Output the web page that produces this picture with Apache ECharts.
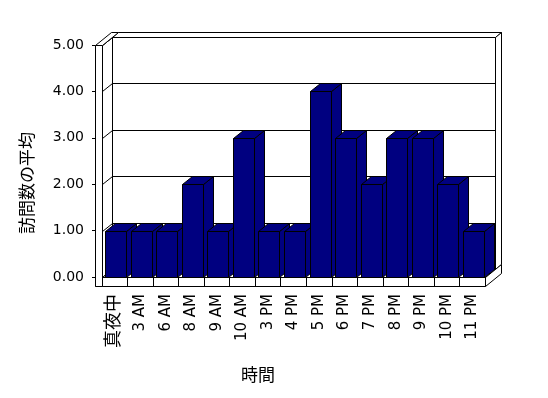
<!DOCTYPE html>
<html>
<head>
<meta charset="utf-8">
<script src="https://cdn.jsdelivr.net/npm/echarts@6/dist/echarts.min.js"></script>
<style>
  html, body { margin: 0; padding: 0; background: #fff; }
  #main { width: 548px; height: 398px; }
</style>
</head>
<body>
<div id="main"></div>
<script>
const categories = ['真夜中', '3 AM', '6 AM', '8 AM', '9 AM', '10 AM', '3 PM', '4 PM', '5 PM', '6 PM', '7 PM', '8 PM', '9 PM', '10 PM', '11 PM'];
const visits = [1, 1, 1, 2, 1, 3, 1, 1, 4, 3, 2, 3, 3, 2, 1];
const yTicks = [0, 1, 2, 3, 4, 5];

const FONT = '"DejaVu Sans", "Noto Sans CJK JP", sans-serif';
const DX = 10, DY = -8;      // depth of the 3d box
const WALL = 7;              // wall / floor thickness
const BX = 16, BY = -13;     // depth incl. back wall thickness

const chart = echarts.init(document.getElementById('main'), null, { renderer: 'canvas' });

function poly(points, fill) {
  return {
    type: 'polygon',
    shape: { points: points },
    style: { fill: fill, stroke: '#000', lineWidth: 1 }
  };
}
function line(x1, y1, x2, y2) {
  return {
    type: 'line',
    shape: { x1: x1, y1: y1, x2: x2, y2: y2 },
    style: { stroke: '#000', lineWidth: 1 }
  };
}

// walls and floor of the 3d box
function renderFrame(params, api) {
  const bw = api.size([1, 0])[0];
  const left = Math.round(api.coord([0, 0])[0] - bw / 2) + 0.5;
  const right = Math.round(api.coord([categories.length - 1, 0])[0] + bw / 2) + 0.5;
  const top = Math.round(api.coord([0, yTicks[yTicks.length - 1]])[1]) + 0.5;
  const bottom = Math.round(api.coord([0, 0])[1]) + 0.5;
  const kids = [];

  // back wall
  kids.push(poly([[left + DX, top + DY], [right + DX, top + DY], [right + DX, bottom + DY], [left + DX, bottom + DY]], '#fff'));
  kids.push(poly([[left + DX, top + DY], [right + DX, top + DY], [right + BX, top + BY], [left + BX, top + BY]], '#fff'));
  kids.push(poly([[right + DX, top + DY], [right + BX, top + BY], [right + BX, bottom + BY], [right + DX, bottom + DY]], '#fff'));
  // left wall inner face
  kids.push(poly([[left, top], [left + DX, top + DY], [left + DX, bottom + DY], [left, bottom]], '#fff'));
  // gridlines
  yTicks.forEach(function (t) {
    const y = Math.round(api.coord([0, t])[1]) + 0.5;
    kids.push(line(left, y, left + DX, y + DY));
    kids.push(line(left + DX, y + DY, right + DX, y + DY));
  });
  // floor
  kids.push(poly([[left, bottom], [right, bottom], [right + DX, bottom + DY], [left + DX, bottom + DY]], '#fff'));
  kids.push(poly([[left - WALL, bottom], [right, bottom], [right, bottom + WALL + 2], [left - WALL, bottom + WALL + 2]], '#fff'));
  kids.push(poly([[right, bottom], [right, bottom + WALL + 2], [right + BX, bottom + WALL + 2 + BY], [right + BX, bottom + BY]], '#fff'));
  // left wall front and top
  kids.push(poly([[left - WALL, top], [left, top], [left, bottom + WALL + 2], [left - WALL, bottom + WALL + 2]], '#fff'));
  kids.push(poly([[left - WALL, top], [left, top], [left + BX, top + BY], [left - WALL + BX, top + BY]], '#fff'));
  return { type: 'group', children: kids };
}

function renderBar(params, api) {
  const i = api.value(0);
  const v = api.value(1);
  const bw = api.size([1, 0])[0];
  const c = api.coord([i, v]);
  const b = api.coord([i, 0]);
  const w = Math.round(bw * 0.84);
  const x0 = Math.round(c[0] - w / 2) + 1.5;
  const x1 = x0 + w;
  const yt = Math.round(c[1]) + 0.5;
  const yb = Math.round(b[1]) + 0.5;
  const fill = '#000080';
  return {
    type: 'group',
    children: [
      poly([[x1, yt], [x1 + DX, yt + DY], [x1 + DX, yb + DY], [x1, yb]], fill),
      poly([[x0, yt], [x1, yt], [x1 + DX, yt + DY], [x0 + DX, yt + DY]], fill),
      poly([[x0, yt], [x1, yt], [x1, yb], [x0, yb]], fill)
    ]
  };
}

const option = {
  backgroundColor: '#fff',
  animation: false,
  grid: { left: 102, right: 63, top: 45, bottom: 121, containLabel: false },
  xAxis: {
    type: 'category',
    data: categories,
    z: 10,
    axisLine: { show: false },
    axisTick: { show: true, length: 9, inside: false, lineStyle: { color: '#000', width: 1 } },
    axisLabel: {
      rotate: 90,
      interval: 0,
      margin: 17,
      color: '#000',
      fontFamily: FONT,
      fontSize: 15,
      formatter: function (v) {
        return /[^\x00-\x7f]/.test(v) ? '{cjk|' + v + '}' : v;
      },
      rich: { cjk: { fontSize: 18, fontFamily: FONT, color: '#000' } }
    },
    splitLine: { show: false }
  },
  yAxis: {
    type: 'value',
    min: 0,
    max: 5,
    interval: 1,
    offset: 7,
    z: 10,
    axisLine: { show: false },
    axisTick: { show: true, length: 3, lineStyle: { color: '#000' } },
    axisLabel: {
      margin: 11,
      color: '#000',
      fontFamily: FONT,
      fontSize: 14,
      formatter: function (v) { return v.toFixed(2); }
    },
    splitLine: { show: false }
  },
  graphic: [
    {
      type: 'text',
      left: 241,
      top: 368,
      style: { text: '時間', fill: '#000', font: '17px ' + FONT }
    },
    {
      type: 'text',
      x: 20,
      y: 234,
      rotation: Math.PI / 2,
      style: { text: '訪問数の平均', fill: '#000', font: '17px ' + FONT }
    }
  ],
  series: [
    {
      type: 'custom',
      z: 1,
      silent: true,
      renderItem: renderFrame,
      data: [[0, 0]]
    },
    {
      type: 'custom',
      z: 3,
      renderItem: renderBar,
      data: visits.map(function (v, i) { return [i, v]; })
    }
  ]
};

chart.setOption(option);
</script>
</body>
</html>
